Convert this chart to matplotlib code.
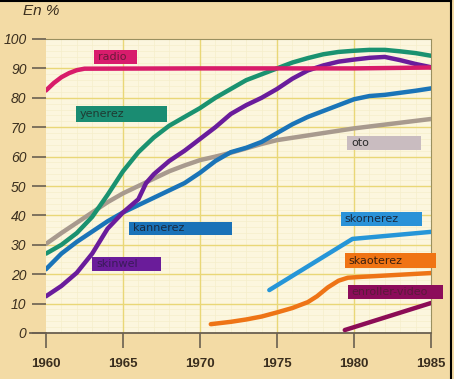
import matplotlib.pyplot as plt
from matplotlib.lines import Line2D
from matplotlib.patches import Rectangle

# values (percent of households)
radio_years = [1960, 1960.5, 1961, 1961.5, 1962, 1962.5, 1970, 1980, 1985]
radio_vals = [82.5, 85, 87, 88.4, 89.4, 89.9, 90, 90, 90.3]

yenerez_years = [1960, 1961, 1962, 1963, 1964, 1965, 1966, 1967, 1968, 1969, 1970,
                 1971, 1972, 1973, 1974, 1975, 1976, 1977, 1978, 1979, 1980,
                 1981, 1982, 1983, 1984, 1985]
yenerez_vals = [27, 30, 34, 39.5, 47, 55, 61.5, 66.5, 70.5, 73.5, 76.5,
                80, 83, 86, 88, 90, 92, 93.5, 94.8, 95.6, 96,
                96.3, 96.3, 95.8, 95.2, 94.3]

skinwel_years = [1960, 1961, 1962, 1963, 1964, 1965, 1966, 1966.5, 1967, 1968, 1969,
                 1970, 1971, 1972, 1973, 1974, 1975, 1976, 1977, 1978, 1979,
                 1980, 1981, 1982, 1983, 1984, 1985]
skinwel_vals = [12.5, 16, 20.5, 27, 35.5, 41, 45.5, 51, 54, 58.5, 62,
                66, 70, 74.5, 77.5, 80, 83, 86.5, 89.3, 91, 92.3,
                93, 93.6, 93.9, 92.8, 91.5, 90.4]

oto_years = [1960, 1961, 1962, 1963, 1964, 1965, 1966, 1967, 1968, 1969, 1970,
             1971, 1972, 1973, 1974, 1975, 1980, 1985]
oto_vals = [30.3, 34, 37.5, 41, 44.5, 47.5, 50, 52.5, 55, 57, 58.8,
            60, 61.3, 62.8, 64.3, 65.6, 69.6, 72.8]

kannerez_years = [1960, 1961, 1962, 1963, 1964, 1965, 1966, 1967, 1968, 1969, 1970,
                  1971, 1972, 1973, 1974, 1975, 1976, 1977, 1978, 1979, 1980,
                  1981, 1982, 1983, 1984, 1985]
kannerez_vals = [21.7, 27, 31, 34.5, 38, 41, 43.5, 46, 48.5, 51, 54.5,
                 58.5, 61.5, 63, 65, 68, 71, 73.5, 75.5, 77.5, 79.5,
                 80.6, 81, 81.7, 82.4, 83.2]

skornerez_years = [1974.5, 1979.9, 1985]
skornerez_vals = [14.6, 32, 34.4]

skaoterez_years = [1970.7, 1972, 1973, 1974, 1975, 1976, 1977, 1977.6, 1978.3,
                   1979, 1979.6, 1980.5, 1985]
skaoterez_vals = [3, 3.8, 4.6, 5.6, 7, 8.5, 10.5, 12.5, 15.5,
                  17.8, 18.8, 19.1, 20.4]

video_years = [1979.4, 1985]
video_vals = [1, 10.2]

x_ticks = [1960, 1965, 1970, 1975, 1980, 1985]
y_ticks = [0, 10, 20, 30, 40, 50, 60, 70, 80, 90, 100]

series = [
    (oto_years, oto_vals, "#a89a8e"),
    (kannerez_years, kannerez_vals, "#1a74b8"),
    (yenerez_years, yenerez_vals, "#1a9270"),
    (skinwel_years, skinwel_vals, "#6a1c9c"),
    (radio_years, radio_vals, "#d81c6a"),
    (skornerez_years, skornerez_vals, "#2696d8"),
    (skaoterez_years, skaoterez_vals, "#ee7416"),
    (video_years, video_vals, "#8c0c56"),
]

# label boxes: text, x0, x1, y0, y1, box colour, text colour
labels = [
    ("radio", 1963.1, 1965.9, 91.5, 96.3, "#d81c6c", "#6a1a3a"),
    ("yenerez", 1961.95, 1967.85, 71.8, 77.2, "#1a8c72", "#1e3a32"),
    ("oto", 1979.55, 1984.35, 62.2, 67.0, "#c9bcc0", "#2a2a2a"),
    ("kannerez", 1965.4, 1972.1, 33.3, 37.8, "#1a72b8", "#1a2a40"),
    ("skinwel", 1963.0, 1967.5, 21.1, 25.9, "#6a1c9a", "#3a1a5a"),
    ("skornerez", 1979.15, 1984.4, 36.4, 41.2, "#2a92d8", "#1a2a40"),
    ("skaoterez", 1979.4, 1985.3, 22.1, 27.2, "#f07414", "#3a2010"),
    ("enroller-video", 1979.6, 1985.8, 11.6, 16.3, "#8c0c5a", "#5a1a3a"),
]

fig = plt.figure(figsize=(4.54, 3.79), dpi=100, facecolor="#f3dba5")
ax = fig.add_axes([46 / 454, 46 / 379, 385 / 454, 294 / 379])
ax.set_facecolor("#fcf6de")

ax.set_xlim(1960, 1985)
ax.set_ylim(0, 100)

# grid: fine and main lines
for yr in range(1961, 1985):
    ax.axvline(yr, color="#f5eecb", lw=0.5, zorder=0)
for v in range(2, 100, 2):
    ax.axhline(v, color="#f5eecb", lw=0.5, zorder=0)
for yr in x_ticks[1:-1]:
    ax.axvline(yr, color="#e9d777", lw=1.0, zorder=0)
for v in y_ticks[1:-1]:
    ax.axhline(v, color="#e9d777", lw=1.0, zorder=0)

for xs, ys, col in series:
    ax.plot(xs, ys, color=col, lw=3.2, solid_capstyle="round",
            solid_joinstyle="round", zorder=3)

for txt, x0, x1, y0, y1, bc, tc in labels:
    ax.add_patch(Rectangle((x0, y0), x1 - x0, y1 - y0, facecolor=bc,
                           edgecolor="none", zorder=4, clip_on=False))
    ax.text(x0 + 0.25, (y0 + y1) / 2, txt, color=tc, fontsize=8,
            va="center", ha="left", zorder=5, clip_on=False)

ax.set_xticks(x_ticks)
ax.set_yticks(y_ticks)
ax.set_xticklabels([str(t) for t in x_ticks], fontfamily="Liberation Sans",
                   fontweight="bold", fontsize=9.5, color="#3a2e1e")
ax.set_yticklabels([str(t) for t in y_ticks], fontfamily="Liberation Sans",
                   fontstyle="italic", fontsize=10, color="#3a2e1e")
ax.tick_params(axis="x", length=11, width=1.2, color="#6a6050", pad=7)
ax.tick_params(axis="y", length=10, width=1.2, color="#6a6050", pad=4)

for side in ["top", "right"]:
    ax.spines[side].set_color("#9a9060")
    ax.spines[side].set_linewidth(0.8)
ax.spines["left"].set_visible(False)
ax.spines["bottom"].set_color("#6a6050")
ax.spines["bottom"].set_linewidth(1.3)
ax.add_line(Line2D([-16 / 385, 0], [0, 0], transform=ax.transAxes,
                   color="#6a6050", lw=1.3, clip_on=False))

fig.text(23 / 454, 1 - 11 / 379, "En %", fontfamily="Liberation Sans",
         fontstyle="italic", fontsize=11, color="#3a2e1e", va="center")

# dark frame at top and right of the picture
fig.add_artist(Line2D([0, 451 / 454], [1 - 1 / 379, 1 - 1 / 379],
                      transform=fig.transFigure, color="black", lw=1.5))
fig.add_artist(Line2D([451 / 454, 451 / 454], [0, 1 - 1 / 379],
                      transform=fig.transFigure, color="black", lw=1.5))

fig.savefig("out.png", dpi=100, facecolor=fig.get_facecolor())
